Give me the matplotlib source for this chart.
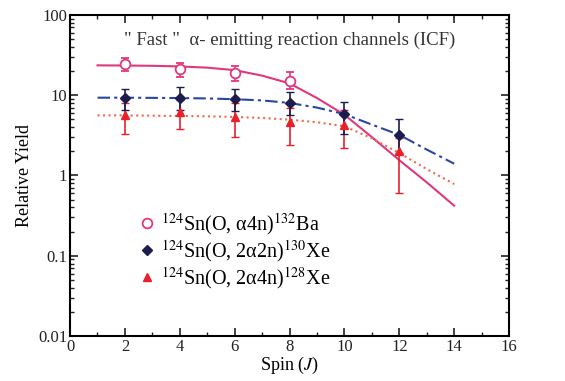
import numpy as np
import matplotlib
matplotlib.use('Agg')
import matplotlib.pyplot as plt
from matplotlib.lines import Line2D
from matplotlib.ticker import FixedLocator, FixedFormatter, LogLocator, NullFormatter, MultipleLocator

plt.rcParams['font.family'] = ['Liberation Serif', 'DejaVu Serif']
plt.rcParams['mathtext.fontset'] = 'stix'

# 数据点 (spin J)
spin = [2, 4, 6, 8]
ba_y = [24.5, 21.0, 19.0, 15.0]
ba_lo = [20.0, 17.0, 15.0, 12.0]
ba_hi = [29.0, 25.0, 23.0, 19.5]

spin2 = [2, 4, 6, 8, 10, 12]
xe130_y = [9.3, 9.3, 8.9, 8.0, 5.9, 3.2]
xe130_lo = [6.5, 6.6, 6.4, 5.6, 3.3, 1.9]
xe130_hi = [12.1, 12.5, 12.0, 11.0, 8.3, 5.1]

xe128_y = [5.6, 6.2, 5.4, 4.6, 4.3, 2.0]
xe128_lo = [3.3, 3.8, 3.0, 2.4, 2.2, 0.6]
xe128_hi = [7.9, 8.7, 8.0, 7.0, 6.5, 2.9]

# 拟合曲线
fit_j = [1, 2, 3, 4, 5, 6, 7, 8, 9, 10, 11, 12, 13, 14]
ba_fit = [23.5, 23.4, 23.2, 22.8, 22.0, 20.5, 17.5, 14.0, 9.2, 5.7, 3.0, 1.55, 0.82, 0.42]
xe130_fit = [9.3, 9.3, 9.25, 9.2, 9.1, 8.9, 8.6, 8.0, 7.0, 5.8, 4.3, 3.2, 2.1, 1.4]
xe128_fit = [5.6, 5.6, 5.55, 5.5, 5.45, 5.35, 5.2, 4.95, 4.6, 4.1, 2.9, 1.9, 1.2, 0.78]

labels = ['$^{124}$Sn(O, α4n)$^{132}$Ba',
          '$^{124}$Sn(O, 2α2n)$^{130}$Xe',
          '$^{124}$Sn(O, 2α4n)$^{128}$Xe']

pink = '#e0387e'
navy = '#1c1c4e'
red = '#e8202a'

fig = plt.figure(figsize=(5.65, 3.81), dpi=100)
ax = fig.add_axes([0.124, 0.118, 0.777, 0.843])

ax.plot(fit_j, ba_fit, '-', color=pink, lw=1.5)
ax.plot(fit_j, xe130_fit, color='#2a46a0', lw=1.5, dashes=[6, 2, 1.5, 2])
ax.plot(fit_j, xe128_fit, ':', color='#f06a48', lw=1.5)

def errs(y, lo, hi):
    y = np.array(y); return [y - np.array(lo), np.array(hi) - y]

ax.errorbar(spin2, xe128_y, yerr=errs(xe128_y, xe128_lo, xe128_hi), fmt='^', color=red,
            ms=6, capsize=3, elinewidth=1.2)
ax.errorbar(spin2, xe130_y, yerr=errs(xe130_y, xe130_lo, xe130_hi), fmt='D', color=navy,
            ms=5, capsize=3, elinewidth=1.2)
ax.errorbar(spin, ba_y, yerr=errs(ba_y, ba_lo, ba_hi), fmt='o', color=pink, mfc='white',
            ms=7, mew=1.3, capsize=3, elinewidth=1.2)

ax.set_yscale('log')
ax.set_xlim(0, 16)
ax.set_ylim(0.01, 100)
ax.xaxis.set_major_locator(MultipleLocator(2))
ax.xaxis.set_minor_locator(MultipleLocator(1))
ax.yaxis.set_major_locator(FixedLocator([0.01, 0.1, 1, 10, 100]))
ax.yaxis.set_major_formatter(FixedFormatter(['0.01', '0.1', '1', '10', '100']))
ax.yaxis.set_minor_locator(LogLocator(base=10, subs=np.arange(2, 10)))
ax.yaxis.set_minor_formatter(NullFormatter())
ax.tick_params(which='both', direction='in', top=True, right=True, labelsize=12, colors='#222222', pad=2)
ax.tick_params(which='major', length=6, width=1.2)
ax.tick_params(which='minor', length=3, width=1)
for s in ax.spines.values():
    s.set_linewidth(1.5)

ax.set_xlabel('Spin ($J$)', fontsize=13, labelpad=0)
ax.set_ylabel('Relative Yield', fontsize=13, labelpad=4)
ax.text(8, 48, '" Fast "  α- emitting reaction channels (ICF)', ha='center', va='center',
        fontsize=13.5, color='#333333')

handles = [Line2D([], [], ls='none', marker='o', color=pink, mfc='white', ms=7, mew=1.3),
           Line2D([], [], ls='none', marker='D', color=navy, ms=5),
           Line2D([], [], ls='none', marker='^', color=red, ms=6)]
ax.legend(handles, labels, loc='upper left', bbox_to_anchor=(0.13, 0.42), frameon=False,
          fontsize=14.5, handletextpad=0.2, labelspacing=0.05, handlelength=1.0, borderpad=0)

fig.savefig('out.png', dpi=100)
